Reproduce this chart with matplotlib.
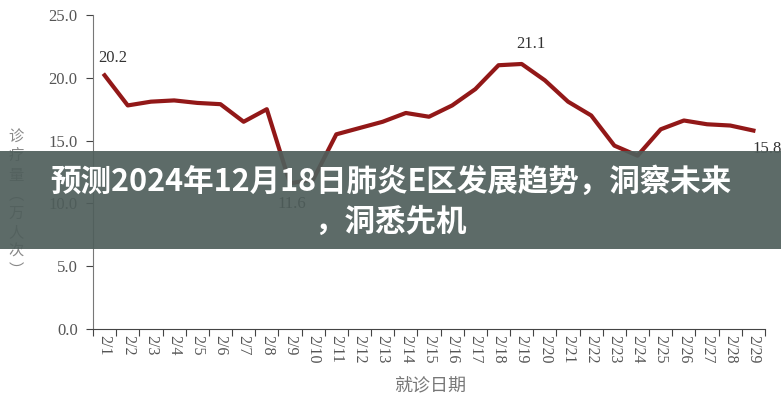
import matplotlib
matplotlib.use("Agg")
import matplotlib.pyplot as plt
from matplotlib.patches import Rectangle

plt.rcParams['font.family'] = ['Liberation Serif', 'Noto Sans CJK SC', 'DejaVu Sans']

# data
dates = ["2/%d" % d for d in range(1, 30)]
visits = [20.2, 17.8, 18.1, 18.2, 18.0, 17.9, 16.5, 17.5, 11.6, 11.9,
          15.5, 16.0, 16.5, 17.2, 16.9, 17.8, 19.1, 21.0, 21.1, 19.8,
          18.1, 17.0, 14.6, 13.8, 15.9, 16.6, 16.3, 16.2, 15.8]
# labelled points: index -> offset in pixels (dx, dy)
labels = {0: (8, 17), 8: (2, -21), 18: (9, 20), 28: (14, -18)}

title_lines = ["预测2024年12月18日肺炎E区发展趋势，洞察未来", "，洞悉先机"]
ylabel = "诊疗量︵万人次︶"
xlabel = "就诊日期"

fig = plt.figure(figsize=(7.81, 4.0), dpi=100)
ax = fig.add_axes([93 / 781, 1 - 329 / 400, 672 / 781, 314 / 400])

x = list(range(len(dates)))
ax.plot(x, visits, color="#921818", lw=3, solid_joinstyle="round")

for i, (dx, dy) in labels.items():
    ax.annotate("%.1f" % visits[i], (x[i], visits[i]),
                xytext=(dx * 0.72, dy * 0.72), textcoords="offset points",
                ha="center", va="center", fontsize=12, color="#333333")

ax.set_xlim(-0.5, len(dates) - 0.5)
ax.set_ylim(0, 25)
ax.set_yticks([0, 5, 10, 15, 20, 25])
ax.set_yticklabels(["%.1f" % v for v in [0, 5, 10, 15, 20, 25]])

# ticks at category boundaries, labels in the middle
ax.set_xticks([i - 0.5 for i in range(len(dates) + 1)])
ax.set_xticklabels([])
ax.set_xticks(x, minor=True)
ax.set_xticklabels(dates, minor=True, rotation=270, fontsize=11.5, color="#555555")
ax.tick_params(axis="x", which="minor", length=0, pad=4)
ax.tick_params(axis="x", which="major", length=5, color="#444444")
ax.tick_params(axis="y", length=5, color="#444444", labelsize=12, labelcolor="#555555", pad=6)

for s in ["top", "right"]:
    ax.spines[s].set_visible(False)
ax.spines["left"].set_color("#777777")
ax.spines["bottom"].set_color("#444444")

fig.text(430 / 781, 1 - 385 / 400, xlabel, ha="center", va="center",
         fontsize=13, color="#777777", family=["Noto Sans CJK SC"])
fig.text(16 / 781, 1 - 204 / 400, "\n".join(ylabel), ha="center", va="center",
         fontsize=11, color="#888888", linespacing=1.15, family=["Noto Sans CJK SC"])

# banner overlay
fig.patches.append(Rectangle((0, 1 - 249 / 400), 1, 98 / 400, transform=fig.transFigure,
                             facecolor="#4f5e5b", alpha=0.92, zorder=5))
fig.text(0.5, 1 - 182 / 400, title_lines[0], ha="center", va="center", color="white",
         fontsize=22, fontweight="heavy", family=["Noto Sans CJK SC"], zorder=6)
fig.text(0.5, 1 - 222 / 400, title_lines[1], ha="center", va="center", color="white",
         fontsize=22, fontweight="heavy", family=["Noto Sans CJK SC"], zorder=6)

fig.savefig("out.png", dpi=100)
